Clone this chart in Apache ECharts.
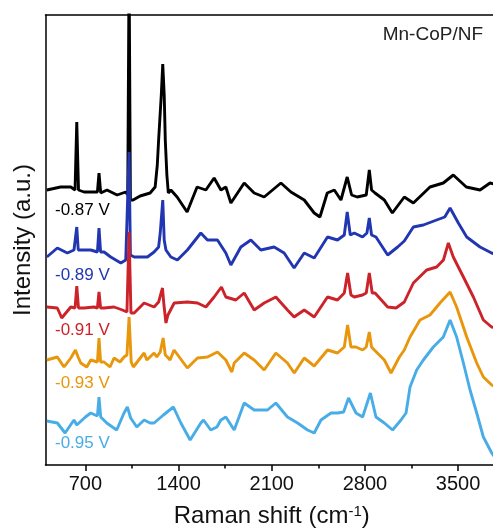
<!DOCTYPE html>
<html>
<head>
<meta charset="utf-8">
<script src="https://cdn.jsdelivr.net/npm/echarts@6/dist/echarts.min.js"></script>
<style>
html,body{margin:0;padding:0;background:#fff;}
#ramanChart{width:493px;height:530px;}
</style>
</head>
<body>
<div id="ramanChart"></div>
<script>
// 横轴刻度 (cm-1)
var majorTicks = [700, 1400, 2100, 2800, 3500];
var minorTicks = [1050, 1750, 2450, 3150];

// 各电位下的拉曼谱 [拉曼位移, 强度(含偏移)]
var spec087 = [[410,275],[514,278],[590,278],[622,275],[635,343],[648,275],[690,273],[765,273],[790,273],[802,292],[815,272],[862,275],[938,270],[1003,273],[1018,270],[1028,500],[1038,265],[1058,265],[1111,269],[1186,272],[1224,278],[1240,300],[1250,325],[1270,370],[1281,401],[1292,370],[1300,325],[1312,290],[1323,272],[1342,275],[1389,268],[1464,253],[1539,278],[1605,275],[1667,287],[1718,275],[1755,278],[1793,262],[1893,282],[1968,272],[2043,268],[2169,282],[2244,273],[2344,265],[2419,252],[2462,248],[2517,272],[2570,275],[2620,265],[2667,288],[2700,270],[2742,268],[2810,270],[2833,295],[2850,275],[2876,272],[2946,265],[3006,252],[3096,268],[3164,262],[3289,278],[3389,282],[3464,290],[3562,278],[3665,275],[3740,282],[3800,280]];

var spec089 = [[410,208],[489,217],[564,212],[614,215],[624,215],[635,238],[646,215],[677,215],[740,215],[790,213],[802,237],[814,213],[840,213],[890,208],[966,202],[1003,205],[1018,203],[1028,313],[1038,210],[1066,208],[1166,208],[1216,213],[1250,218],[1262,232],[1281,265],[1292,225],[1305,215],[1342,208],[1391,205],[1466,215],[1567,232],[1617,225],[1692,225],[1755,212],[1793,200],[1868,218],[1943,225],[2018,215],[2118,218],[2193,212],[2268,197],[2344,212],[2419,207],[2519,228],[2594,225],[2645,230],[2667,253],[2690,230],[2720,232],[2782,228],[2815,232],[2833,247],[2850,230],[2883,228],[2971,210],[3046,218],[3096,224],[3164,238],[3239,240],[3339,245],[3400,248],[3440,257],[3502,242],[3565,228],[3665,218],[3752,212],[3800,210]];

var spec091 = [[410,158],[489,157],[522,147],[590,158],[622,157],[635,179],[648,157],[690,157],[765,158],[790,157],[802,173],[814,157],[840,157],[915,158],[978,155],[1012,153],[1028,233],[1042,152],[1066,152],[1141,162],[1216,158],[1250,163],[1279,177],[1290,160],[1305,142],[1320,150],[1367,162],[1466,163],[1542,162],[1605,158],[1667,168],[1722,178],[1755,168],[1830,165],[1893,172],[1968,155],[2043,162],[2131,168],[2218,155],[2268,148],[2344,155],[2419,148],[2519,168],[2594,165],[2645,172],[2670,192],[2695,170],[2720,168],[2782,170],[2810,172],[2833,192],[2855,172],[2876,172],[2971,158],[3034,157],[3096,163],[3164,182],[3264,195],[3339,198],[3390,205],[3427,222],[3464,208],[3540,188],[3615,168],[3690,145],[3752,138],[3800,137]];

var spec093 = [[410,105],[489,108],[539,98],[590,107],[625,115],[645,108],[665,102],[710,98],[740,105],[790,103],[802,127],[814,103],[840,103],[885,98],[915,107],[960,103],[990,108],[1012,110],[1028,148],[1044,103],[1060,98],[1141,112],[1161,105],[1216,112],[1236,108],[1262,113],[1284,127],[1300,110],[1316,108],[1336,105],[1366,115],[1466,97],[1542,107],[1617,108],[1692,113],[1755,105],[1800,93],[1818,102],[1893,112],[1968,105],[2043,95],[2131,112],[2218,102],[2269,92],[2344,107],[2419,99],[2519,115],[2594,112],[2645,118],[2670,140],[2695,118],[2733,118],[2783,115],[2810,118],[2833,133],[2850,118],[2871,115],[2946,105],[2996,92],[3059,108],[3096,115],[3139,128],[3214,145],[3289,150],[3364,162],[3440,173],[3489,158],[3565,128],[3640,102],[3690,88],[3753,80],[3800,77]];

var spec095 = [[410,44],[489,42],[547,32],[614,45],[635,40],[700,48],[740,52],[790,49],[802,68],[815,48],[860,42],[935,35],[990,52],[1015,58],[1040,47],[1086,38],[1141,45],[1186,42],[1216,42],[1286,50],[1361,58],[1417,42],[1487,25],[1567,42],[1587,45],[1642,35],[1688,38],[1718,45],[1755,48],[1818,35],[1893,62],[1968,55],[2068,55],[2131,62],[2218,48],[2294,42],[2369,35],[2419,32],[2470,45],[2545,52],[2594,52],[2640,53],[2677,67],[2733,52],[2783,48],[2841,72],[2883,48],[2946,42],[3008,35],[3071,45],[3109,52],[3139,78],[3189,95],[3239,105],[3314,118],[3389,128],[3440,145],[3489,128],[3540,102],[3590,75],[3640,52],[3690,28],[3753,12],[3800,3]];

var seriesNames = ['-0.87 V', '-0.89 V', '-0.91 V', '-0.93 V', '-0.95 V'];
var seriesData = [spec087, spec089, spec091, spec093, spec095];
var seriesColors = ['#000000', '#2136b0', '#cc2229', '#e8960c', '#48ade6'];
var labelY = [210, 275, 330, 383, 443];

var fontName = 'Arial, "Liberation Sans", sans-serif';

function drawRaman(){
    var myChart = echarts.init(document.getElementById('ramanChart'));

    var series = [];
    var texts = [];
    for (var i = 0; i < seriesData.length; i++) {
        series.push({
            name: seriesNames[i],
            type: 'line',
            data: seriesData[i],
            showSymbol: false,
            clip: true,
            lineStyle: {color: seriesColors[i], width: 2.9},
            z: 2 + i
        });
        texts.push({
            type: 'text',
            x: 55,
            y: labelY[i],
            style: {text: seriesNames[i], fill: seriesColors[i], fontSize: 17,
                    fontFamily: fontName, verticalAlign: 'middle'}
        });
    }
    texts.push({
        type: 'text',
        x: 483,
        y: 35,
        style: {text: 'Mn-CoP/NF', fill: '#222', fontSize: 19, fontFamily: fontName,
                align: 'right', verticalAlign: 'middle'}
    });

    var option = {
        animation: false,
        backgroundColor: '#fff',
        grid: {left: 45.5, right: -5, top: 15, bottom: 65, outerBoundsMode: 'none'},
        xAxis: [{
            type: 'value',
            min: 400,
            max: 3800,
            position: 'bottom',
            splitLine: {show: false},
            axisLine: {lineStyle: {color: '#000', width: 1.5}},
            axisTick: {customValues: majorTicks, length: 6, lineStyle: {color: '#000', width: 1.5}},
            axisLabel: {
                customValues: majorTicks, color: '#111', fontSize: 20, fontFamily: fontName, margin: 9,
                formatter: function(v){ return String(v); }
            },
            name: 'Raman shift (cm{sup|-1})',
            nameLocation: 'middle',
            nameGap: 39,
            nameTextStyle: {
                color: '#111', fontSize: 24, fontFamily: fontName,
                rich: {sup: {fontSize: 15, fontFamily: fontName, color: '#111', verticalAlign: 'top'}}
            }
        }, {
            // 次刻度
            type: 'value',
            min: 400,
            max: 3800,
            position: 'bottom',
            splitLine: {show: false},
            axisLine: {show: false},
            axisLabel: {show: false},
            axisTick: {customValues: minorTicks, length: 3.5, lineStyle: {color: '#000', width: 1.5}}
        }, {
            // 上边框
            type: 'value',
            min: 400,
            max: 3800,
            position: 'top',
            splitLine: {show: false},
            axisLine: {lineStyle: {color: '#000', width: 1.5}},
            axisTick: {show: false},
            axisLabel: {show: false}
        }],
        yAxis: [{
            type: 'value',
            min: 0,
            max: 450,
            splitLine: {show: false},
            axisLine: {show: true, lineStyle: {color: '#000', width: 1.5}},
            axisTick: {show: false},
            axisLabel: {show: false},
            name: 'Intensity (a.u.)',
            nameLocation: 'middle',
            nameGap: 10,
            nameTextStyle: {color: '#111', fontSize: 24, fontFamily: fontName}
        }],
        graphic: texts,
        series: series
    };

    myChart.setOption(option);
}

drawRaman();
</script>
</body>
</html>
